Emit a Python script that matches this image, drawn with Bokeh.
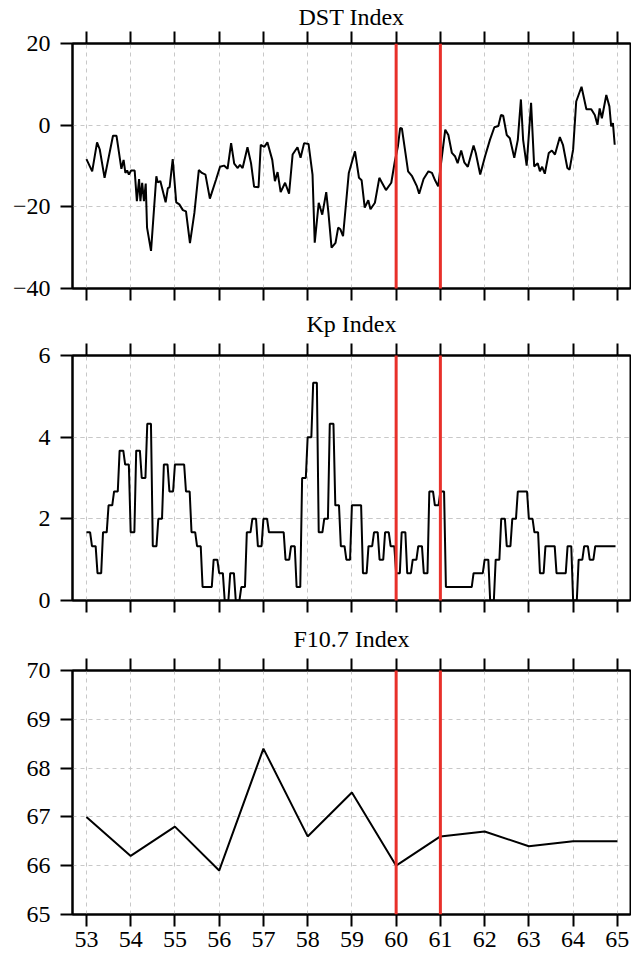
import numpy as np
from bokeh.plotting import figure
from bokeh.layouts import column
from bokeh.models import Range1d, LinearAxis, SingleIntervalTicker, Arrow, CustomJSTickFormatter
from bokeh.embed import file_html
from bokeh.resources import INLINE

# ---------------- data ----------------
dst_day = [53.00, 53.13, 53.24, 53.30, 53.41, 53.60, 53.68, 53.79, 53.84, 53.88, 53.92, 53.96,
           54.01, 54.09, 54.14, 54.19, 54.22, 54.26, 54.30, 54.34, 54.37, 54.46, 54.58, 54.61,
           54.67, 54.79, 54.84, 54.88, 54.95, 55.03, 55.10, 55.18, 55.25, 55.34, 55.44, 55.54,
           55.61, 55.69, 55.79, 55.93, 56.02, 56.11, 56.19, 56.27, 56.34, 56.42, 56.47, 56.53,
           56.64, 56.72, 56.79, 56.89, 56.94, 57.02, 57.09, 57.20, 57.26, 57.32, 57.39, 57.49,
           57.58, 57.66, 57.77, 57.84, 57.92, 58.02, 58.11, 58.16, 58.25, 58.33, 58.42, 58.47,
           58.54, 58.63, 58.69, 58.74, 58.80, 58.93, 59.07, 59.16, 59.22, 59.29, 59.37, 59.42,
           59.52, 59.62, 59.68, 59.77, 59.89, 59.97, 60.04, 60.09, 60.13, 60.21, 60.27, 60.36,
           60.47, 60.52, 60.62, 60.73, 60.81, 60.88, 60.95, 61.02, 61.11, 61.18, 61.26, 61.33,
           61.39, 61.47, 61.54, 61.62, 61.75, 61.80, 61.90, 62.01, 62.12, 62.22, 62.31, 62.37,
           62.42, 62.50, 62.57, 62.67, 62.75, 62.82, 62.87, 62.95, 63.05, 63.12, 63.20, 63.25,
           63.30, 63.36, 63.45, 63.52, 63.59, 63.70, 63.77, 63.87, 63.92, 64.00, 64.07, 64.19,
           64.30, 64.41, 64.49, 64.55, 64.60, 64.65, 64.75, 64.82, 64.86, 64.90, 64.94]
dst_val = [-8.3, -11.3, -4.2, -5.9, -12.9, -2.6, -2.6, -10.7, -8.5, -11.7, -11.1, -12.1,
           -11.1, -11.1, -18.6, -13.2, -18.6, -14.1, -18.6, -14.3, -25.1, -30.8, -12.5, -14.0,
           -13.7, -18.9, -15.4, -15.2, -8.3, -18.9, -19.4, -20.8, -21.1, -28.9, -21.5, -11.0,
           -11.7, -12.1, -18.0, -13.3, -10.2, -9.9, -10.7, -4.4, -9.4, -10.5, -9.7, -10.5,
           -5.4, -9.3, -15.1, -15.2, -4.8, -5.3, -4.2, -8.5, -13.7, -11.5, -16.4, -14.1,
           -16.8, -7.2, -5.4, -8.0, -4.4, -4.6, -12.1, -28.8, -19.0, -21.9, -16.4, -21.5,
           -30.0, -28.8, -25.1, -25.5, -27.2, -11.7, -6.4, -12.9, -13.5, -20.2, -18.4, -20.6,
           -19.0, -12.9, -14.1, -15.9, -14.1, -8.9, -5.2, -0.7, -0.8, -6.8, -11.3, -12.5,
           -15.0, -16.8, -13.2, -11.3, -11.7, -13.5, -15.0, -8.9, -1.1, -2.4, -6.8, -7.6,
           -9.3, -6.2, -9.1, -10.2, -5.0, -6.8, -12.1, -7.6, -3.6, -0.5, -0.2, 2.5,
           2.3, -2.4, -3.2, -8.0, -3.6, 6.3, -3.6, -9.9, 5.5, -10.1, -9.3, -11.3,
           -10.2, -11.9, -6.8, -6.2, -7.2, -2.9, -4.8, -10.5, -10.9, -6.0, 5.8, 9.4,
           3.9, 3.9, 2.5, 0.1, 4.1, 1.7, 7.4, 4.6, -0.3, 0.5, -4.8]

# Kp: 3-hourly values starting at day 53
kp_3h = [1.67, 1.33, 0.67, 1.67, 2.33, 2.67, 3.67, 3.33, 1.67, 3.67, 3.0, 4.33,
         1.33, 2.0, 3.33, 2.67, 3.33, 3.33, 2.67, 1.67, 1.33, 0.33, 0.33, 1.0,
         0.67, 0.0, 0.67, 0.0, 0.33, 1.67, 2.0, 1.33, 2.0, 1.67, 1.67, 1.67,
         1.0, 1.33, 0.33, 3.0, 4.0, 5.33, 1.67, 2.0, 4.33, 2.33, 1.33, 1.0,
         2.33, 2.33, 0.67, 1.33, 1.67, 1.0, 1.67, 1.33, 0.67, 1.67, 0.67, 1.0,
         1.33, 0.67, 2.67, 2.33, 2.67, 0.33, 0.33, 0.33, 0.33, 0.33, 0.67, 0.67,
         1.0, 0.0, 1.0, 2.0, 1.33, 2.0, 2.67, 2.67, 2.0, 1.67, 0.67, 1.33,
         1.33, 0.67, 0.67, 1.33, 0.0, 1.0, 1.33, 1.0, 1.33, 1.33, 1.33, 1.33]
kp_start_day = 53

f107_day = [53, 54, 55, 56, 57, 58, 59, 60, 61, 62, 63, 64, 65]
f107_val = [67.0, 66.2, 66.8, 65.9, 68.4, 66.6, 67.5, 66.0, 66.6, 66.7, 66.4, 66.5, 66.5]

titles = ["DST Index", "Kp Index", "F10.7 Index"]
event_days = [60, 61]
x_start, x_end = 52.685, 65.297

# hourly Kp series (each 3-hourly value held for 3 hours)
kp_hours = np.arange(len(kp_3h) * 3)
kp_day = kp_start_day + kp_hours / 24.0
kp_val = np.repeat(kp_3h, 3)

FONT = "Liberation Serif"
GRID = "#c8c8c8"
RED = "#e8302a"

empty_fmt = "return ''"
minus_fmt = "return tick < 0 ? '\\u2212' + Math.abs(tick) : String(tick);"


def make_panel(title, y0, y1, y_int, n_minor, xs, ys, show_xlabels,
               height, top_b, bot_b, title_gap, extend_up, extend_down):
    p = figure(width=631, height=height,
               x_range=Range1d(x_start, x_end), y_range=Range1d(y0, y1),
               output_backend="svg", toolbar_location=None,
               min_border_left=72, min_border_right=1,
               min_border_top=top_b, min_border_bottom=bot_b)
    p.background_fill_color = "white"
    p.border_fill_color = "white"
    p.outline_line_color = "black"
    p.outline_line_width = 2

    # bottom x axis
    xa = p.xaxis[0]
    xa.ticker = SingleIntervalTicker(interval=1, num_minor_ticks=0)
    xa.major_tick_out = 12
    xa.major_tick_in = 0
    xa.major_tick_line_width = 2
    xa.minor_tick_line_color = None
    xa.axis_line_width = 2
    if show_xlabels:
        xa.major_label_text_font = FONT
        xa.major_label_text_font_size = "24px"
        xa.major_label_text_color = "black"
        xa.major_label_standoff = 5
    else:
        xa.formatter = CustomJSTickFormatter(code=empty_fmt)
        xa.major_label_text_font_size = "0px"
        xa.major_label_standoff = 0

    # top axis: ticks + panel title
    ta = LinearAxis(ticker=SingleIntervalTicker(interval=1, num_minor_ticks=0),
                    formatter=CustomJSTickFormatter(code=empty_fmt))
    ta.major_label_text_font_size = "0px"
    ta.major_label_standoff = 0
    ta.major_tick_out = 12
    ta.major_tick_in = 0
    ta.major_tick_line_width = 2
    ta.minor_tick_line_color = None
    ta.axis_line_width = 2
    ta.axis_label = title
    ta.axis_label_text_font = FONT
    ta.axis_label_text_font_size = "24px"
    ta.axis_label_text_font_style = "normal"
    ta.axis_label_text_color = "black"
    ta.axis_label_standoff = title_gap
    p.add_layout(ta, "above")

    # left y axis
    ya = p.yaxis[0]
    ya.ticker = SingleIntervalTicker(interval=y_int, num_minor_ticks=n_minor)
    ya.formatter = CustomJSTickFormatter(code=minus_fmt)
    ya.major_label_text_font = FONT
    ya.major_label_text_font_size = "24px"
    ya.major_label_text_color = "black"
    ya.major_label_standoff = 10
    ya.major_tick_out = 12
    ya.major_tick_in = 0
    ya.major_tick_line_width = 2
    ya.minor_tick_line_color = None
    ya.axis_line_width = 2

    # grids
    p.xgrid.ticker = SingleIntervalTicker(interval=1, num_minor_ticks=0)
    p.ygrid.ticker = SingleIntervalTicker(interval=y_int, num_minor_ticks=n_minor)
    for g in (p.xgrid[0], p.ygrid[0]):
        g.grid_line_color = GRID
        g.grid_line_dash = "4 4"
        g.grid_line_width = 1
    if n_minor:
        p.ygrid.minor_grid_line_color = GRID
        p.ygrid.minor_grid_line_dash = "4 4"
        p.ygrid.minor_grid_line_width = 1

    p.line(xs, ys, line_color="black", line_width=2)

    # event markers: run through the whole frame and, where the panels
    # continue, on through the border area towards the neighbouring panel
    span = y1 - y0
    top = y1 + span * 0.5 if extend_up else y1
    bot = y0 - span * 0.5 if extend_down else y0
    for d in event_days:
        p.add_layout(Arrow(end=None, start=None, x_start=d, x_end=d, y_start=bot, y_end=top,
                           line_color=RED, line_width=3))
    return p


p1 = make_panel(titles[0], -40, 20, 20, 0, dst_day, dst_val, False, 307, 43, 19, 2, False, True)
p2 = make_panel(titles[1], 0, 6, 2, 1, kp_day, kp_val, False, 315, 48, 22, 7, True, True)
p3 = make_panel(titles[2], 65, 70, 1, 0, f107_day, f107_val, True, 337, 48, 45, 7, True, False)

layout = column(p1, p2, p3, spacing=0)

with open("out.html", "w") as f:
    f.write(file_html(layout, INLINE))
